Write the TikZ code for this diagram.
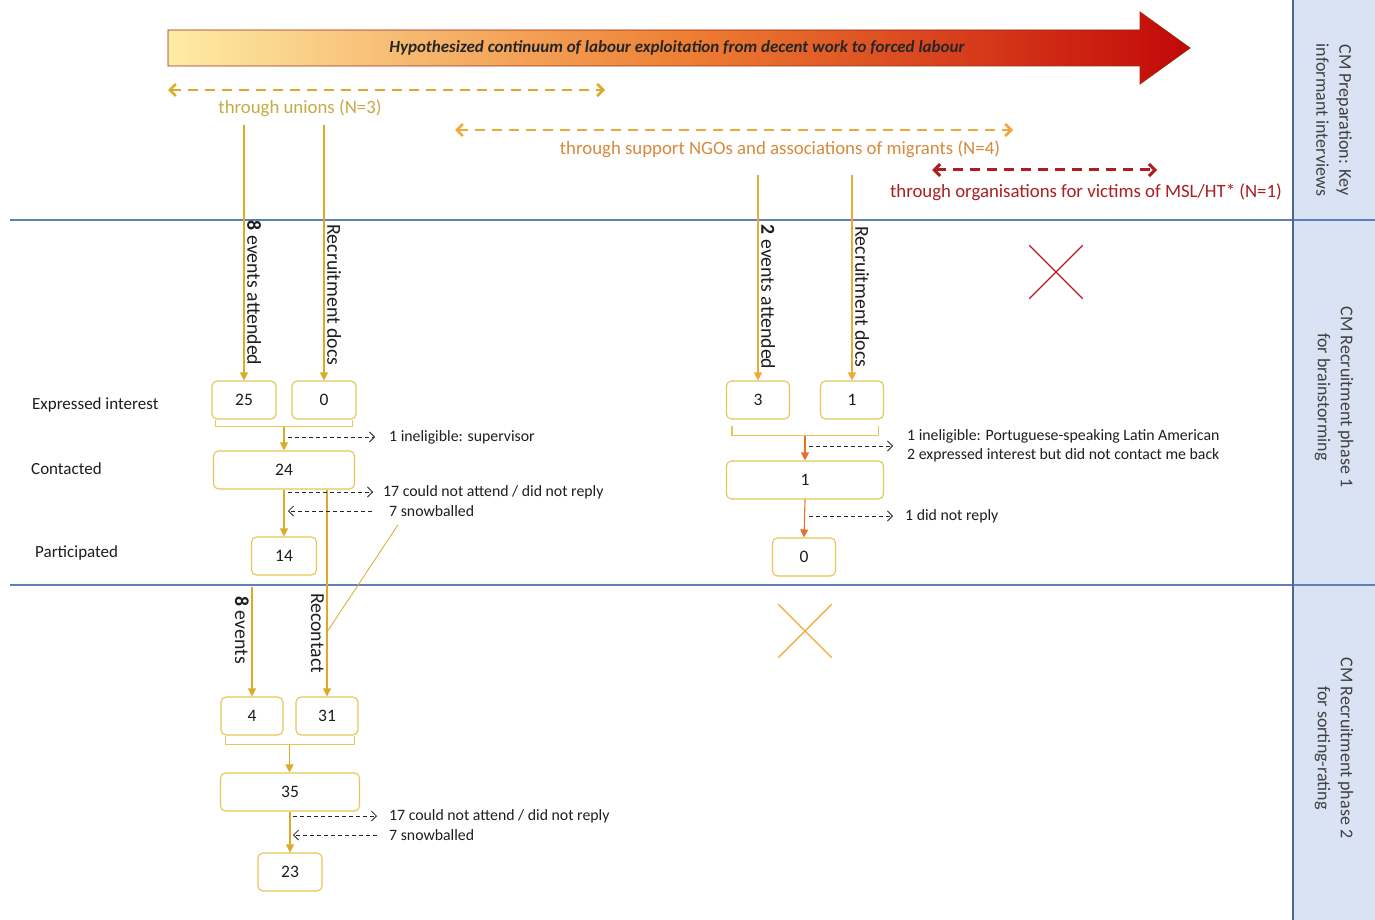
\documentclass[tikz,border=0pt]{standalone}
\usepackage{fontspec}
\setmainfont{Carlito}
\usetikzlibrary{arrows.meta,positioning,calc,shapes.misc}
\definecolor{unionGold}{RGB}{218,170,40}
\definecolor{unionText}{RGB}{200,170,70}
\definecolor{boxGold}{RGB}{230,198,85}
\definecolor{ngoOrange}{RGB}{240,168,55}
\definecolor{ngoText}{RGB}{214,138,60}
\definecolor{flowOrange}{RGB}{230,112,40}
\definecolor{victimRed}{RGB}{172,30,35}
\definecolor{panelBlue}{RGB}{218,227,243}
\definecolor{lineBlue}{RGB}{95,128,180}
\definecolor{shadeLight}{RGB}{254,236,165}
\definecolor{shadeMid}{RGB}{238,128,52}
\definecolor{shadeDark}{RGB}{195,8,8}
\definecolor{arrowEdge}{RGB}{150,40,20}
\definecolor{inkGray}{RGB}{30,30,30}

\begin{document}
\begin{tikzpicture}[
  x=1pt, y=-1pt,
  numbox/.style={rectangle, rounded corners=5pt, draw=boxGold, line width=1.1pt,
                 fill=white, minimum height=38pt, font=\fontsize{17.5}{18}\selectfont,
                 text=inkGray},
  note/.style={anchor=west, inner sep=0pt, align=left,
               font=\fontsize{15.8}{19}\selectfont, text=inkGray},
  rowlbl/.style={anchor=west, inner sep=0pt, font=\fontsize{17}{18}\selectfont,
                 text=inkGray},
  vlbl/.style={rotate=-90, inner sep=3pt, font=\fontsize{19.8}{20}\selectfont,
               text=inkGray},
  chan/.style={font=\fontsize{18.8}{20}\selectfont},
  phase/.style={rotate=-90, align=center, font=\fontsize{18}{23}\selectfont,
                text=black!75},
  garr/.style={-{Triangle[width=8pt,length=8pt]}, line width=1.1pt, unionGold},
  oarr/.style={-{Triangle[width=8pt,length=8pt]}, line width=1.1pt, ngoOrange},
  farr/.style={-{Triangle[width=8pt,length=8pt]}, line width=1.1pt, flowOrange},
  darr/.style={-{Straight Barb[length=5pt,width=10pt]}, line width=0.8pt,
               dash pattern=on 4pt off 3pt, black!85},
  brk/.style={line width=1.1pt, draw=boxGold},
  span/.style={{Straight Barb[length=6pt,width=12pt]}-{Straight Barb[length=6pt,width=12pt]},
               line width=2.5pt, dash pattern=on 10pt off 7pt},
  xmark/.style={cross out, draw=#1, line width=1.3pt, minimum size=52pt, inner sep=0pt}
]
\useasboundingbox (0,0) rectangle (1375,920);
\fill[white] (0,0) rectangle (1375,920);

% phases
\fill[panelBlue] (1293,0) rectangle (1375,920);
\draw[lineBlue, line width=1.2pt] (10,220) -- (1375,220) (10,585) -- (1375,585);
\draw[lineBlue!80!black, line width=1.5pt] (1293,0) -- (1293,920);
\node[phase] (P0) at (1334,120) {CM Preparation: Key\\informant interviews};
\node[phase] (P1) at (1334,397) {CM Recruitment phase 1\\for brainstorming};
\node[phase] (P2) at (1334,748) {CM Recruitment phase 2\\for sorting-rating};

% continuum
\path[draw=arrowEdge, line width=0.8pt, left color=shadeLight, right color=shadeDark,
      middle color=shadeMid]
  (168,30) -- (1140,30) -- (1140,12) -- (1190,48) -- (1140,84) -- (1140,66)
  -- (168,66) -- cycle;
\node[font=\bfseries\itshape\fontsize{17}{18}\selectfont, text=black!85] (TT)
  at (677,48) {Hypothesized continuum of labour exploitation from decent work to forced labour};

% channels
\node[chan, text=unionText] (LU) at (300,108) {through unions (N=3)};
\node[chan, text=ngoText] (LN) at (780,149)
  {through support NGOs and associations of migrants (N=4)};
\node[chan, text=victimRed] (LV) at (1086,192)
  {through organisations for victims of MSL/HT* (N=1)};
\coordinate (ua) at (168,90);  \coordinate (ub) at (605,90);
\coordinate (na) at (455,130); \coordinate (nb) at (1013,130);
\coordinate (va) at (932,170); \coordinate (vb) at (1157,170);
\draw[span, unionGold] (ua) -- (ub);
\draw[span, ngoOrange] (na) -- (nb);
\draw[span, victimRed, line width=3pt] (va) -- (vb);

% row labels
\node[rowlbl] (R1) at (32,405) {Expressed interest};
\node[rowlbl] (R2) at (31,469) {Contacted};
\node[rowlbl] (R3) at (35,553) {Participated};

% unions
\node[numbox, minimum width=64pt]  (U1) at (244,400) {25};
\node[numbox, minimum width=64pt]  (U2) at (324,400) {0};
\node[numbox, minimum width=141pt] (U3) at (284,470) {24};
\node[numbox, minimum width=65pt]  (U4) at (284,556) {14};
\node[numbox, minimum width=62pt]  (U5) at (252,716) {4};
\node[numbox, minimum width=62pt]  (U6) at (327,716) {31};
\node[numbox, minimum width=139pt] (U7) at (290,792) {35};
\node[numbox, minimum width=64pt]  (U8) at (290,872) {23};

\coordinate (t1) at (244,125); \coordinate (t2) at (324,125);
\coordinate (t5) at (252,587);
\foreach \a/\b in {t1/U1,t2/U2,t5/U5}
  \draw[garr] (\a) -- (\b.north);
\node[vlbl, anchor=south] (E1) at (244,293) {\textbf{8} events attended};
\node[vlbl, anchor=south] (D1) at (324,295) {Recruitment docs};
\node[vlbl, anchor=north] (E2) at (252,630) {\textbf{8} events};

\draw[brk] ([xshift=4pt]U1.south west) -- ++(0,7) -| ([xshift=-4pt]U2.south east);
\coordinate (B1) at ($(U1.south west)!0.5!(U2.south east)+(0,7)$);
\draw[garr] (B1) -- (B1 |- U3.north);
\draw[garr] (U3.south) -- (U4.north);
\draw[garr] (U3.south -| U6.north) -- (U6.north);
\node[vlbl, anchor=north] (RC) at (327,633) {Recontact};

\draw[brk] ([xshift=5pt]U5.south west) -- ++(0,9) -| ([xshift=-4pt]U6.south east);
\coordinate (B2) at ($(U5.south west)!0.5!(U6.south east)+(0,9)$);
\draw[garr] (B2) -- (B2 |- U7.north);
\draw[garr] (U7.south) -- (U8.north);

\node[note] (T1) at (389,437) {1 ineligible: supervisor};
\node[note] (T2) at (383,492) {17 could not attend / did not reply};
\node[note] (T3) at (389,511) {7 snowballed};
\draw[darr] ($(B1 |- T1.west)+(4,0)$) -- ($(T1.west)+(-14,0)$);
\draw[darr] ($(U3.south |- T2.west)+(4,0)$) -- ($(T2.west)+(-10,0)$);
\draw[darr] ($(T3.west)+(-17,0)$) -- ($(U4.north |- T3.west)+(4,0)$);
\coordinate (rc) at (327,632);
\draw[unionGold, line width=0.8pt] ($(T3.south west)+(9,8)$) -- (rc);

\node[note] (T4) at (389,816) {17 could not attend / did not reply};
\node[note] (T5) at (389,835) {7 snowballed};
\draw[darr] ($(U7.south |- T4.west)+(3,0)$) -- ($(T4.west)+(-12,0)$);
\draw[darr] ($(T5.west)+(-12,0)$) -- ($(U8.north |- T5.west)+(3,0)$);

% NGOs
\node[numbox, minimum width=63pt]  (N1) at (758,400) {3};
\node[numbox, minimum width=63pt]  (N2) at (852,400) {1};
\node[numbox, minimum width=157pt] (N3) at (805,480) {1};
\node[numbox, minimum width=63pt]  (N4) at (804,557) {0};

\coordinate (t3) at (758,175); \coordinate (t4) at (852,175);
\foreach \a/\b in {t3/N1,t4/N2}
  \draw[oarr] (\a) -- (\b.north);
\node[vlbl, anchor=south] (E3) at (758,297) {\textbf{2} events attended};
\node[vlbl, anchor=south] (D3) at (852,297) {Recruitment docs};

\draw[brk] ([xshift=6pt,yshift=-6pt]N1.south west) -- ++(0,10)
  -| ([xshift=-6pt,yshift=-6pt]N2.south east);
\coordinate (B3) at ($(N1.south west)!0.5!(N2.south east)+(0,16)$);
\draw[farr] (B3) -- (B3 |- N3.north);
\draw[farr] (N3.south) -- (N4.north);

\node[note] (T6) at (907,446) {1 ineligible: Portuguese-speaking Latin American\\
  2 expressed interest but did not contact me back};
\node[note] (T7) at (905,516) {1 did not reply};
\draw[darr] ($(B3 |- T6.west)+(4,0)$) -- ($(T6.west)+(-14,0)$);
\draw[darr] ($(N3.south |- T7.west)+(4,0)$) -- ($(T7.west)+(-12,0)$);

% closed channels
\node[xmark=victimRed] (XV) at (1056,272) {};
\node[xmark=ngoOrange] (XN) at (805,631) {};
\end{tikzpicture}
\end{document}
